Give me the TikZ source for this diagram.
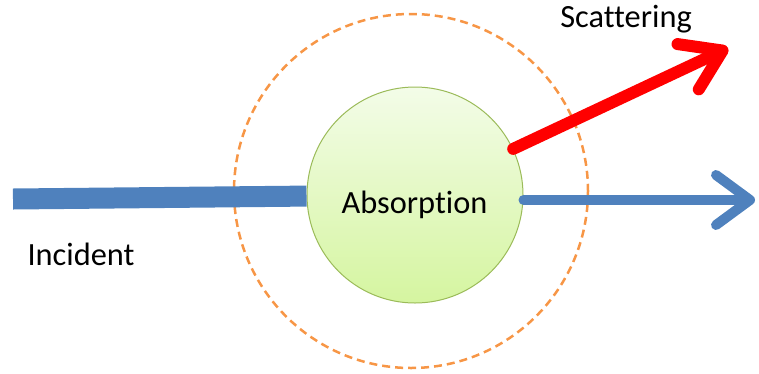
\documentclass[tikz,border=0pt]{standalone}
\usepackage{fontspec}
\setmainfont{Carlito}[Ligatures=NoCommon]
\usetikzlibrary{arrows.meta}
\definecolor{beamblue}{HTML}{4F81BD}
\definecolor{ringorange}{HTML}{F79646}
\definecolor{ballgreen}{HTML}{9BBB59}
\definecolor{balltop}{HTML}{F3FCE8}
\definecolor{ballbot}{HTML}{D5F5A0}
\begin{document}
\begin{tikzpicture}[x=1bp,y=-1bp,line join=round,
  lbl/.style={font=\fontsize{32.5}{38}\selectfont,inner sep=0pt,anchor=base},
  ball/.style={circle,draw=ballgreen,line width=1bp,top color=balltop,bottom color=ballbot,minimum size=216bp,inner sep=0pt},
  barb/.style={-{Straight Barb[length=#1,width=50bp,round]},line cap=round}]
\useasboundingbox (0,0) rectangle (759,373);
\draw[ringorange,line width=2.5bp,dash pattern=on 8bp off 5bp] (411,191) circle (177);
\coordinate (inc) at (13,199);
\coordinate (out) at (755,200);
\coordinate (sca) at (728,48);
\node[ball] (abs) at (415,195) {};
\draw[beamblue,line width=21bp] (inc) -- (abs);
\draw[beamblue,line width=10bp,barb=34bp] (abs.east |- out) -- (out);
\draw[red,line width=12bp,barb=38bp] (abs) -- (sca);
\node[lbl] (abstxt) at (414.5,213) {Absorption};
\node[lbl] (inctxt) at (81,265) {Incident};
\node[lbl] (scatxt) at (626,27) {Scattering};
\end{tikzpicture}
\end{document}
